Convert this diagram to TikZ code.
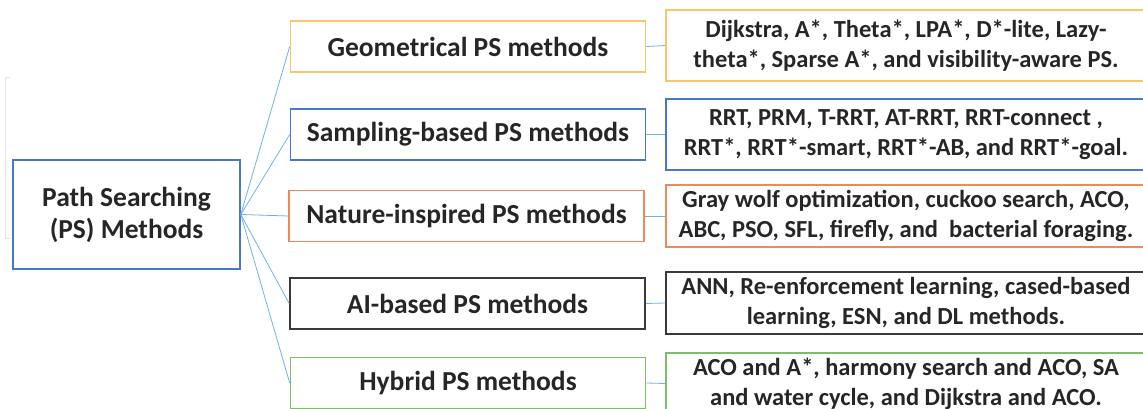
\documentclass[tikz,border=0pt]{standalone}
\usepackage{fontspec}
\setmainfont{Carlito}
\definecolor{txt}{HTML}{262626}
\definecolor{cyellow}{HTML}{F9C66B}
\definecolor{cblue}{HTML}{4A78C8}
\definecolor{corange}{HTML}{EE8A5A}
\definecolor{cdark}{HTML}{3A3A3A}
\definecolor{cgreen}{HTML}{7DBE6A}
\definecolor{clink}{HTML}{6FB0EA}
\definecolor{cfaint}{HTML}{E6E6E6}
\tikzset{
  box/.style={draw, line width=1.6pt, rectangle, inner sep=0pt, text=txt, align=center, font=\bfseries},
  midbox/.style={box, minimum width=355pt, minimum height=51pt, font=\fontsize{27.5}{32}\bfseries\selectfont},
  listbox/.style={box, minimum width=480pt, minimum height=71pt, font=\fontsize{24.5}{30}\bfseries\selectfont},
  link/.style={draw=clink, line width=0.8pt}
}
\begin{document}
\begin{tikzpicture}[x=1pt, y=-1pt]
\useasboundingbox (0,0) rectangle (1143,409);
% faint bracket at the far left
\draw[cfaint, line width=1pt] (10,78) -- (5,78) -- (5,238) -- (10,238);
% root
\node[box, draw=cblue, minimum width=227pt, minimum height=109pt,
      font=\fontsize{27.5}{32}\bfseries\selectfont] (root) at (126.5,214.5)
      {Path Searching\\(PS) Methods};
% method families
\node[midbox, draw=cyellow] (m1) at (468,46.5) {Geometrical PS methods};
\node[midbox, draw=cblue]   (m2) at (468,134.5) {Sampling-based PS methods};
\node[midbox, draw=corange] (m3) at (466.5,216) {Nature-inspired PS methods};
\node[midbox, draw=cdark]   (m4) at (467.5,303.5) {AI-based PS methods};
\node[midbox, draw=cgreen]  (m5) at (468,383) {Hybrid PS methods};
% examples
\node[listbox, draw=cyellow, minimum height=71pt] (r1) at (906,45.5)
  {Dijkstra, A*, Theta*, LPA*, D*-lite, Lazy-\\theta*, Sparse A*, and visibility-aware PS.};
\node[listbox, draw=cblue, minimum height=71pt] (r2) at (906,134.5)
  {RRT, PRM, T-RRT, AT-RRT, RRT-connect ,\\RRT*, RRT*-smart, RRT*-AB, and RRT*-goal.};
\node[listbox, draw=corange, minimum height=62pt] (r3) at (906,216)
  {Gray wolf optimization, cuckoo search, ACO,\\ABC, PSO, SFL, firefly, and\ \ bacterial foraging.};
\node[listbox, draw=cdark, minimum height=62pt] (r4) at (906,303)
  {ANN, Re-enforcement learning, cased-based\\learning, ESN, and DL methods.};
\node[listbox, draw=cgreen, minimum height=61pt] (r5) at (906,383.5)
  {ACO and A*, harmony search and ACO, SA\\and water cycle, and Dijkstra and ACO.};
% connectors
\foreach \i in {1,...,5} {
  \draw[link] (root.east) -- (m\i.west);
  \draw[link] (m\i.east) -- (r\i.west);
}
\end{tikzpicture}
\end{document}
